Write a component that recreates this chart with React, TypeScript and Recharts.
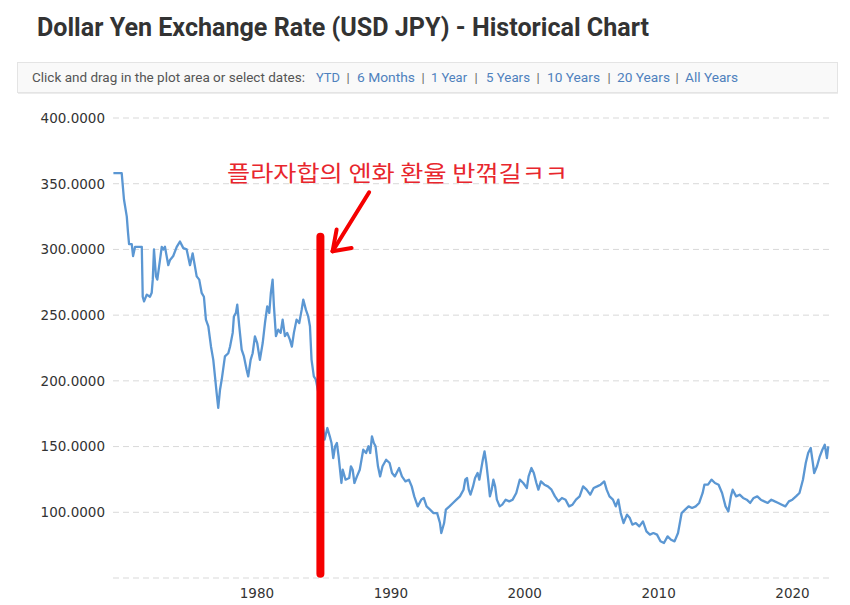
import { LineChart, Line, XAxis, YAxis, CartesianGrid, ReferenceLine } from "recharts";

// positions along the time axis
const years = [
  1969.28, 1969.9, 1970.07, 1970.28, 1970.37, 1970.45, 1970.65, 1970.75, 1970.9, 1971.4,
  1971.47, 1971.57, 1971.77, 1972.01, 1972.14, 1972.22, 1972.31, 1972.46, 1972.56, 1972.76,
  1972.89, 1973.01, 1973.13, 1973.38, 1973.51, 1973.75, 1974.01, 1974.25, 1974.5, 1974.75,
  1975.0, 1975.2, 1975.5, 1975.69, 1975.87, 1976.04, 1976.19, 1976.37, 1976.57, 1976.74,
  1976.87, 1976.99, 1977.11, 1977.24, 1977.37, 1977.61, 1977.86, 1977.99, 1978.19, 1978.28,
  1978.43, 1978.53, 1978.68, 1978.86, 1979.03, 1979.23, 1979.35, 1979.53, 1979.68, 1979.85,
  1980.02, 1980.22, 1980.43, 1980.6, 1980.77, 1980.92, 1981.04, 1981.17, 1981.27, 1981.42,
  1981.59, 1981.77, 1981.92, 1982.09, 1982.26, 1982.46, 1982.61, 1982.76, 1982.96, 1983.16,
  1983.34, 1983.46, 1983.66, 1983.83, 1983.96, 1984.08, 1984.25, 1984.4, 1984.7, 1985.05,
  1985.26, 1985.44, 1985.57, 1985.7, 1985.84, 1985.97, 1986.1, 1986.31, 1986.41, 1986.62,
  1986.89, 1987.02, 1987.15, 1987.28, 1987.47, 1987.68, 1987.81, 1987.94, 1988.15, 1988.33,
  1988.46, 1988.59, 1988.73, 1988.86, 1989.04, 1989.2, 1989.38, 1989.65, 1989.91, 1990.09,
  1990.3, 1990.62, 1990.83, 1991.09, 1991.35, 1991.56, 1991.75, 1992.01, 1992.27, 1992.46,
  1992.67, 1992.93, 1993.19, 1993.46, 1993.67, 1993.77, 1993.98, 1994.11, 1994.38, 1994.64,
  1994.9, 1995.16, 1995.43, 1995.56, 1995.69, 1995.82, 1995.95, 1996.14, 1996.29, 1996.48,
  1996.61, 1996.74, 1996.87, 1997.0, 1997.13, 1997.27, 1997.4, 1997.53, 1997.66, 1997.79,
  1997.92, 1998.13, 1998.32, 1998.58, 1998.84, 1999.1, 1999.37, 1999.63, 1999.89, 2000.16,
  2000.29, 2000.5, 2000.68, 2000.87, 2001.02, 2001.21, 2001.47, 2001.73, 2002.0, 2002.26,
  2002.52, 2002.78, 2003.05, 2003.31, 2003.57, 2003.83, 2004.1, 2004.36, 2004.62, 2004.89,
  2005.15, 2005.41, 2005.67, 2005.94, 2006.12, 2006.33, 2006.59, 2006.8, 2006.99, 2007.17,
  2007.38, 2007.64, 2007.85, 2008.04, 2008.3, 2008.56, 2008.83, 2009.09, 2009.35, 2009.61,
  2009.88, 2010.14, 2010.4, 2010.67, 2010.93, 2011.19, 2011.45, 2011.72, 2011.98, 2012.24,
  2012.5, 2012.77, 2013.03, 2013.29, 2013.42, 2013.69, 2013.95, 2014.21, 2014.48, 2014.74,
  2015.0, 2015.21, 2015.4, 2015.53, 2015.79, 2016.05, 2016.31, 2016.58, 2016.84, 2017.1,
  2017.37, 2017.63, 2017.89, 2018.15, 2018.42, 2018.68, 2018.94, 2019.2, 2019.47, 2019.73,
  2019.99, 2020.26, 2020.52, 2020.78, 2020.99, 2021.17, 2021.36, 2021.52, 2021.62, 2021.83,
  2022.04, 2022.23, 2022.41, 2022.57, 2022.67,
];

// USD/JPY, yen per dollar
const usdJpy = [
  358, 358, 338, 325, 313, 304, 304, 295, 302, 302,
  264, 260.5, 265.6, 264, 267, 277, 300, 279.5, 277, 292,
  302, 300, 302, 288, 292, 295, 302, 306, 301, 300,
  288, 297, 279.5, 277, 267, 264, 246.6, 241.5, 226, 216,
  203, 190.8, 179.4, 193, 201, 218.6, 221, 226, 236.5, 249,
  251.7, 258, 241.5, 223.7, 218.6, 208.5, 203.4, 216, 221, 233.9,
  228.8, 216, 228.8, 244, 256.7, 251.7, 267, 277, 256.7, 234,
  239, 236.5, 246.6, 234, 236.5, 231.4, 226, 236.5, 246.6, 244,
  254, 261.8, 254, 249, 241.5, 216, 203.4, 201, 185, 155.3,
  164.1, 157.8, 152.7, 141.3, 150.2, 152.7, 142.6, 122.3, 132.4, 124.8,
  126.1, 135, 132.4, 122.3, 127.3, 132.4, 140, 147.6, 145.1, 150.2,
  145.1, 157.8, 152.7, 150.2, 135, 127.3, 135, 140, 137.5, 129.9,
  127.3, 133.7, 127.3, 123.5, 124.8, 119.7, 112.1, 104.5, 109.6, 110.9,
  104.5, 102, 99.4, 99.4, 91.8, 84.2, 91.8, 102, 104.5, 107.1,
  109.6, 112.1, 117.2, 124.8, 126.1, 117.2, 113.4, 119.7, 126.1, 129.9,
  124.8, 132.4, 140, 146.4, 137.5, 124.8, 112.1, 117.2, 124.8, 119.7,
  109.6, 104.5, 105.8, 109.6, 108.3, 109.6, 114.7, 124.8, 122.3, 118.5,
  127.3, 133.7, 129.9, 122.3, 117.2, 123.5, 121, 119.7, 117.2, 112.1,
  108.3, 110.9, 109.6, 104.5, 105.8, 109.6, 112.1, 119.7, 117.2, 113.4,
  118.5, 119.7, 121, 123.5, 117.2, 112.1, 109.6, 104.5, 109.6, 99.4,
  91.8, 98.2, 95.6, 90.6, 91.8, 89.3, 93.1, 85.5, 83, 84.2,
  83, 77.9, 76.6, 81.7, 79.1, 77.9, 84.2, 99.4, 102, 104.5,
  103.3, 104.5, 107.1, 114.7, 121, 121, 124.8, 122.3, 121, 114.7,
  104.5, 100.7, 112.1, 117.2, 112.1, 113.4, 110.9, 109.6, 107.1, 110.9,
  112.1, 109.6, 108.3, 107.1, 109.6, 108.3, 107.1, 105.8, 104.5, 108.3,
  109.6, 112.1, 114.7, 124.8, 137.5, 145.1, 148.9, 137.5, 129.9, 135,
  142.6, 147.6, 151.4, 141.3, 150.2,
];

const xTicks = [1980, 1990, 2000, 2010, 2020];
const yTicks = [50, 100, 150, 200, 250, 300, 350, 400];

const rangeLinks = ["YTD", "6 Months", "1 Year", "5 Years", "10 Years", "20 Years", "All Years"];

const data = years.map((year, i) => ({ year, rate: usdJpy[i] }));

// hand-drawn annotation, in chart coordinates (year, yen)
const plazaBar = [
  { x: 1984.74, y: 53.3 },
  { x: 1984.74, y: 309.7 },
];
const arrowShaft = [
  { x: 1988.38, y: 343.5 },
  { x: 1985.65, y: 298.6 },
];
const arrowHeadA = [
  { x: 1985.65, y: 298.6 },
  { x: 1985.95, y: 315.1 },
];
const arrowHeadB = [
  { x: 1985.65, y: 298.6 },
  { x: 1987.07, y: 301.1 },
];

// link layout in the date-range bar: [x, textLength]
const linkPos = [
  [316, 24],
  [357, 58],
  [431, 36],
  [486, 44],
  [547, 53],
  [617, 53],
  [685, 53],
];
const sepPos = [348, 423, 476, 538, 609, 677];

const tickStyle = { fontFamily: "DejaVu Sans", fontSize: 13.5, fill: "#333" };

export default function App() {
  return (
    <div
      style={{
        position: "absolute",
        left: 0,
        top: 0,
        width: 850,
        height: 605,
        background: "#fff",
        overflow: "hidden",
        fontFamily: "Roboto",
      }}
    >
      <svg width={850} height={100} style={{ position: "absolute", left: 0, top: 0 }}>
        <text
          x={37}
          y={36}
          fontFamily="Roboto"
          fontWeight={700}
          fontSize={25}
          fill="#333"
          textLength={612}
          lengthAdjust="spacingAndGlyphs"
        >
          Dollar Yen Exchange Rate (USD JPY) - Historical Chart
        </text>
        <rect x={17.5} y={62.5} width={820} height={30} fill="#f9f9f9" stroke="#e4e4e4" />
        <line x1={18} y1={93.5} x2={838} y2={93.5} stroke="#ececec" />
        <text
          x={32}
          y={82}
          fontFamily="Roboto"
          fontSize={13}
          fill="#555"
          textLength={273}
          lengthAdjust="spacingAndGlyphs"
        >
          Click and drag in the plot area or select dates:
        </text>
        {rangeLinks.map((label, i) => (
          <text
            key={label}
            x={linkPos[i][0]}
            y={82}
            fontFamily="Roboto"
            fontSize={13}
            fill="#4f81bd"
            textLength={linkPos[i][1]}
            lengthAdjust="spacingAndGlyphs"
          >
            {label}
          </text>
        ))}
        {sepPos.map((x) => (
          <text key={x} x={x} y={82} fontFamily="Roboto" fontSize={13} fill="#666" textAnchor="middle">
            |
          </text>
        ))}
      </svg>

      <div style={{ position: "absolute", left: 0, top: 100 }}>
        <LineChart width={850} height={505} data={data} margin={{ top: 18, right: 18, bottom: 0, left: 0 }}>
          <CartesianGrid vertical={false} stroke="#d9d9d9" strokeDasharray="6 4" />
          <XAxis
            type="number"
            dataKey="year"
            domain={[1969.25, 2022.95]}
            ticks={xTicks}
            allowDataOverflow
            axisLine={false}
            tickLine={false}
            tick={tickStyle}
            tickMargin={4}
            height={27}
          />
          <YAxis
            type="number"
            domain={[50, 400]}
            ticks={yTicks}
            allowDataOverflow
            axisLine={false}
            tickLine={false}
            tick={tickStyle}
            width={113}
            tickFormatter={(v: number) => (v === 50 ? "" : v.toFixed(4))}
          />
          <Line
            type="linear"
            dataKey="rate"
            stroke="#5b97d3"
            strokeWidth={2.3}
            strokeLinejoin="round"
            dot={false}
            isAnimationActive={false}
          />
          <ReferenceLine segment={plazaBar} stroke="#f50000" strokeWidth={8} strokeLinecap="round" ifOverflow="visible" />
          <ReferenceLine segment={arrowShaft} stroke="#f50000" strokeWidth={4} strokeLinecap="round" ifOverflow="visible" />
          <ReferenceLine segment={arrowHeadA} stroke="#f50000" strokeWidth={4} strokeLinecap="round" ifOverflow="visible" />
          <ReferenceLine segment={arrowHeadB} stroke="#f50000" strokeWidth={4} strokeLinecap="round" ifOverflow="visible" />
        </LineChart>
      </div>

      <svg width={850} height={60} style={{ position: "absolute", left: 0, top: 150 }}>
        <text
          x={227}
          y={31}
          fontFamily="Noto Sans CJK KR"
          fontSize={22}
          fill="#e8262d"
          textLength={341}
          lengthAdjust="spacingAndGlyphs"
        >
          플라자합의 엔화 환율 반꺾길ㅋㅋ
        </text>
      </svg>
    </div>
  );
}
